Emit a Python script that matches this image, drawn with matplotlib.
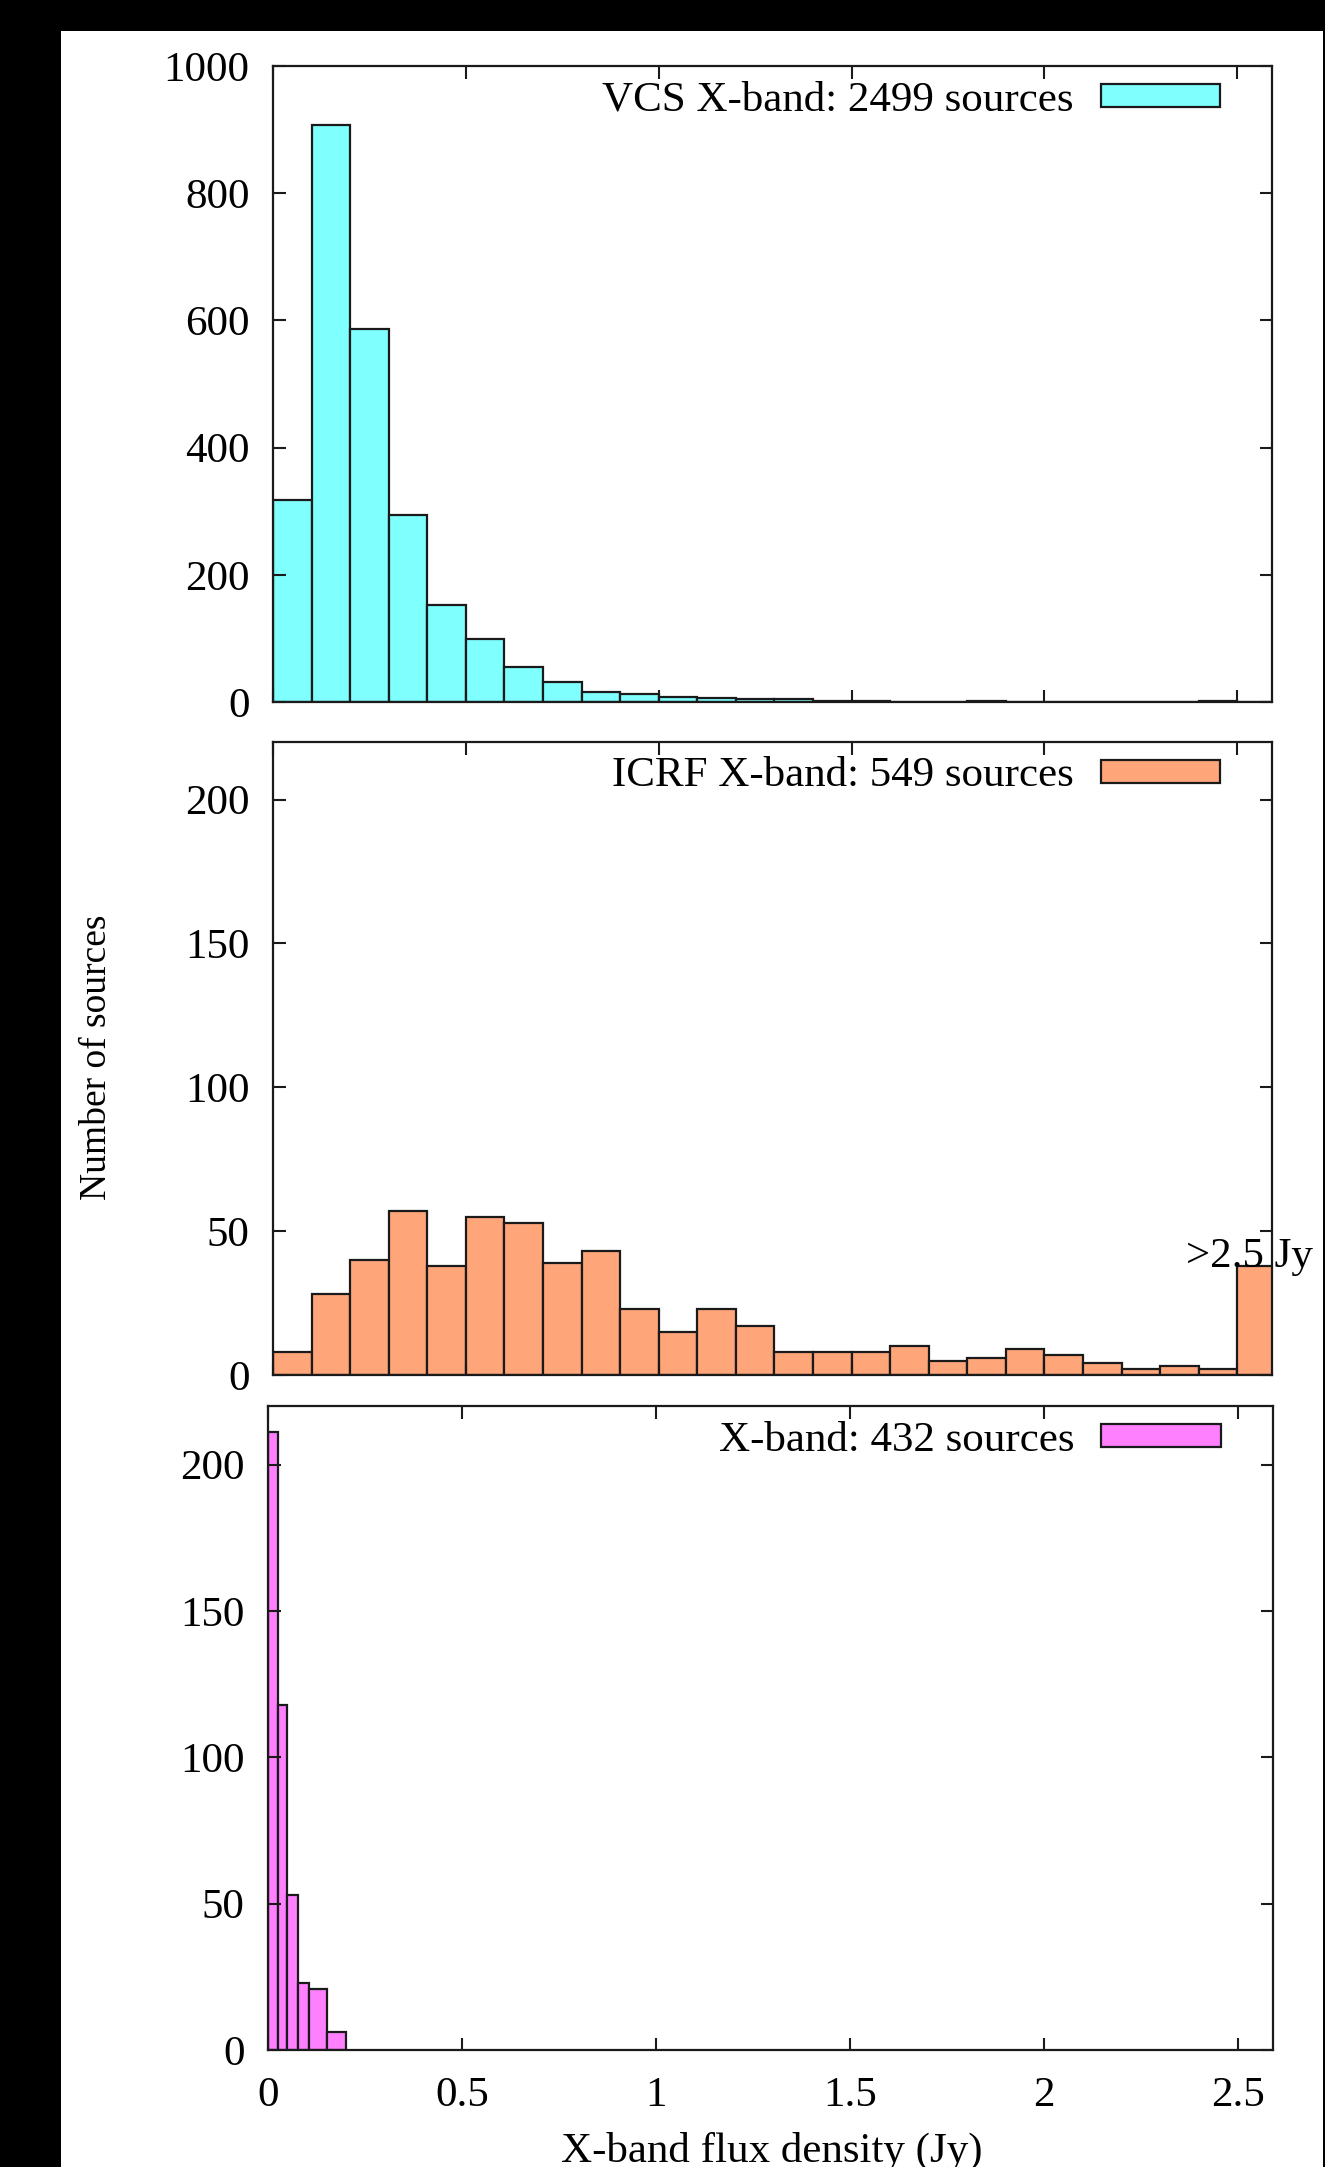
import numpy as np
import matplotlib
matplotlib.use("Agg")
from matplotlib import pyplot as plt
from matplotlib.patches import Rectangle

plt.rcParams['font.family'] = ['Liberation Serif', 'DejaVu Serif']

# VCS X-band histogram, bins of 0.1 Jy from 0 to 2.6
vcs_edges = np.round(np.arange(0, 2.61, 0.1), 2)
vcs_counts = [317, 908, 586, 294, 152, 99, 55, 31, 16, 12, 8, 7, 4, 5, 1, 2,
              0, 0, 1, 0, 0, 0, 0, 0, 1, 0]

# ICRF X-band histogram, last bin holds everything >2.5 Jy
icrf_edges = np.round(np.arange(0, 2.61, 0.1), 2)
icrf_counts = [8, 28, 40, 57, 38, 55, 53, 39, 43, 23, 15, 23, 17, 8, 8, 8,
               10, 5, 6, 9, 7, 4, 2, 3, 2, 38]

# new X-band sources
new_edges = [0, 0.025, 0.05, 0.078, 0.106, 0.152, 0.2]
new_counts = [211, 118, 53, 23, 21, 6]

labels = ["VCS X-band: 2499 sources", "ICRF X-band: 549 sources", "X-band: 432 sources"]
colors = ["#80FFFF", "#FFA57A", "#FF80FF"]
xtick_vals = [0, 0.5, 1, 1.5, 2, 2.5]
xtick_labels = ["0", "0.5", "1", "1.5", "2", "2.5"]

W, H = 1325, 2167
FS = 31
fig = plt.figure(figsize=(W / 100, H / 100), dpi=100, facecolor="black")
fig.add_artist(Rectangle((61 / W, 0), (1323 - 61) / W, 1 - 31 / H,
                         transform=fig.transFigure, facecolor="white",
                         edgecolor="none", zorder=-5))


def px_axes(left, right, top, bottom):
    return fig.add_axes([left / W, 1 - bottom / H, (right - left) / W, (bottom - top) / H])


ax1 = px_axes(273, 1272, 66, 702)
ax2 = px_axes(273, 1272, 742, 1375)
ax3 = px_axes(268, 1273, 1406, 2050)

panels = [
    (ax1, vcs_edges, vcs_counts, (0, 1000), [0, 200, 400, 600, 800, 1000]),
    (ax2, icrf_edges, icrf_counts, (0, 220), [0, 50, 100, 150, 200]),
    (ax3, new_edges, new_counts, (0, 220), [0, 50, 100, 150, 200]),
]

for i, (ax, edges, counts, ylim, yticks) in enumerate(panels):
    edges = np.asarray(edges, dtype=float)
    ax.bar(edges[:-1], counts, width=np.diff(edges), align="edge",
           color=colors[i], edgecolor="#1a1a1a", linewidth=1.6, label=labels[i])
    ax.set_xlim(0, 2.59)
    ax.set_ylim(*ylim)
    ax.set_yticks(yticks)
    ax.set_xticks(xtick_vals)
    ax.tick_params(direction="in", length=9, width=1.5, top=True, right=True,
                   labelsize=FS, pad=17, colors="#1a1a1a", labelcolor="black")
    if ax is ax3:
        ax.set_xticklabels(xtick_labels)
        ax.tick_params(axis="x", pad=19)
    else:
        ax.tick_params(axis="x", labelbottom=False)
    for s in ax.spines.values():
        s.set_linewidth(1.6)
        s.set_color("#1a1a1a")
    ax.legend(loc="center right", bbox_to_anchor=(0.948, 0.946), frameon=False,
              markerfirst=False, fontsize=FS, handlelength=2.77, handleheight=0.44,
              handletextpad=0.63, borderaxespad=0, borderpad=0)

ax2.text(2.366, 37.5, ">2.5 Jy", ha="left", va="baseline", fontsize=FS, clip_on=False)

fig.text(97 / W, 1 - 1057 / H, "Number of sources", rotation=90,
         ha="center", va="center", fontsize=27)
fig.text(772 / W, 1 - 2151 / H, "X-band flux density (Jy)",
         ha="center", va="center", fontsize=FS)

fig.savefig("out.png", dpi=100, facecolor=fig.get_facecolor())
